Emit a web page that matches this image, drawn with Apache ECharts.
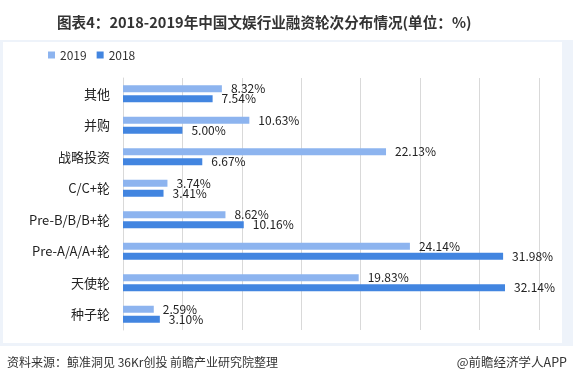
<!DOCTYPE html>
<html><head><meta charset="utf-8">
<script src="https://cdn.jsdelivr.net/npm/echarts@6/dist/echarts.min.js"></script>
<style>html,body{margin:0;padding:0;background:#fff}#c{width:573px;height:385px}</style>
</head><body><div id="c"></div>
<script>
const categories = ['其他','并购','战略投资','C/C+轮','Pre-B/B/B+轮','Pre-A/A/A+轮','天使轮','种子轮'];
const values2019 = [8.32,10.63,22.13,3.74,8.62,24.14,19.83,2.59];
const values2018 = [7.54,5.00,6.67,3.41,10.16,31.98,32.14,3.10];
const xTicks = [0,5,10,15,20,25,30,35];

const chart = echarts.init(document.getElementById('c'));
const font = '"Noto Sans CJK SC","Microsoft YaHei",sans-serif';
const lbl = {show:true,position:'right',distance:9,color:'#222',fontSize:12,fontFamily:font,formatter:p=>p.value.toFixed(2)+'%'};
chart.setOption({
  animation:false,
  title:{text:'图表4：2018-2019年中国文娱行业融资轮次分布情况(单位：%)',left:52,top:10,
    textStyle:{fontSize:14.6,fontWeight:'bold',color:'#333',fontFamily:font}},
  graphic:[
    {type:'rect',z:-10,shape:{x:0,y:40,width:573,height:306},style:{fill:'#eef3fa'}},
    {type:'rect',z:-9,shape:{x:3,y:42,width:559,height:301},style:{fill:'#ffffff'}},
    {type:'text',left:7,top:356,style:{text:'资料来源：鲸准洞见 36Kr创投 前瞻产业研究院整理',fontSize:12,fill:'#333',fontFamily:font}},
    {type:'text',right:6,top:356,style:{text:'@前瞻经济学人APP',fontSize:12.5,fill:'#333',fontFamily:font}}
  ],
  legend:{left:43,top:44,itemWidth:7,itemHeight:7,itemGap:10,icon:'rect',
    textStyle:{fontSize:12,color:'#333',fontFamily:font},data:['2019','2018']},
  grid:{left:123,right:34,top:78,bottom:55,containLabel:false},
  xAxis:{type:'value',min:xTicks[0],max:xTicks[xTicks.length-1],interval:5,
    axisLabel:{show:false},axisLine:{show:false},axisTick:{show:false},
    splitLine:{lineStyle:{color:'#d9d9d9'}}},
  yAxis:{type:'category',data:categories,inverse:true,
    axisLine:{show:true,lineStyle:{color:'#d9d9d9'}},axisTick:{show:false},
    axisLabel:{margin:13,fontSize:13,color:'#222',fontFamily:font}},
  series:[
    {name:'2019',type:'bar',data:values2019,barWidth:7,barGap:'43%',itemStyle:{color:'#8db4ef'},label:lbl},
    {name:'2018',type:'bar',data:values2018,barWidth:7,barGap:'43%',itemStyle:{color:'#4285e0'},label:lbl}
  ]
});
</script></body></html>
